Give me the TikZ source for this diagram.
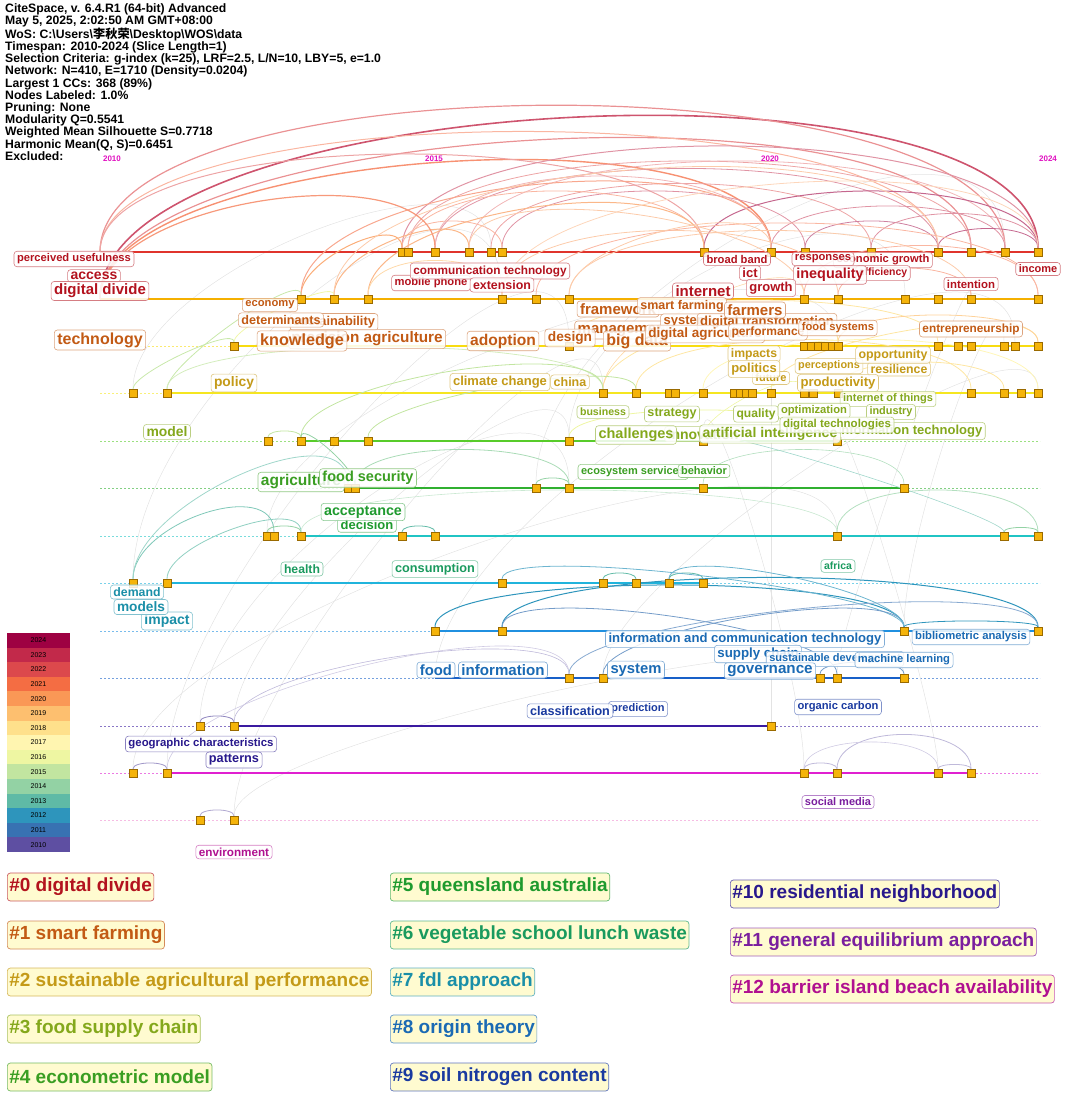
\documentclass[tikz,border=0pt]{standalone}
\usepackage{fontspec}
\setmainfont{Liberation Sans}
\newfontfamily\cjk{Noto Sans CJK SC}
\pgfdeclarelayer{bg}
\pgfsetlayers{bg,main}

% label colours of the clusters
\definecolor{c0}{HTML}{B3121E}
\definecolor{c1}{HTML}{C25A14}
\definecolor{c2}{HTML}{C49A18}
\definecolor{c3}{HTML}{84A81C}
\definecolor{c4}{HTML}{3A9E22}
\definecolor{c5}{HTML}{1E9A2E}
\definecolor{c6}{HTML}{1A9A5E}
\definecolor{c7}{HTML}{1A8FA8}
\definecolor{c8}{HTML}{1A6AB4}
\definecolor{c9}{HTML}{1A3AA0}
\definecolor{c10}{HTML}{28188C}
\definecolor{c11}{HTML}{7A1E9E}
\definecolor{c12}{HTML}{B01090}
% timeline colours
\definecolor{r0}{HTML}{E0342C}
\definecolor{r1}{HTML}{F5B000}
\definecolor{r2}{HTML}{F8DC10}
\definecolor{r3}{HTML}{F5E620}
\definecolor{r4}{HTML}{58CC2A}
\definecolor{r5}{HTML}{30B030}
\definecolor{r6}{HTML}{20C4C4}
\definecolor{r7}{HTML}{20B4DC}
\definecolor{r8}{HTML}{2090E0}
\definecolor{r9}{HTML}{1860C8}
\definecolor{r10}{HTML}{3A1AA0}
\definecolor{r11}{HTML}{E020D0}
\definecolor{r12}{HTML}{F090D0}
% year colours
\definecolor{y2024}{HTML}{9E0142}
\definecolor{y2023}{HTML}{C2294A}
\definecolor{y2022}{HTML}{DC494C}
\definecolor{y2021}{HTML}{F46D43}
\definecolor{y2020}{HTML}{FA9856}
\definecolor{y2019}{HTML}{FDBF6F}
\definecolor{y2018}{HTML}{FEE08B}
\definecolor{y2017}{HTML}{FFF5B0}
\definecolor{y2016}{HTML}{EEF6A2}
\definecolor{y2015}{HTML}{C2E5A0}
\definecolor{y2014}{HTML}{93D2A4}
\definecolor{y2013}{HTML}{5FBAA6}
\definecolor{y2012}{HTML}{2E95BC}
\definecolor{y2011}{HTML}{3872B2}
\definecolor{y2010}{HTML}{5E4FA2}
\definecolor{sqfill}{HTML}{F5B40A}
\definecolor{sqedge}{HTML}{9A6A00}
\definecolor{cluback}{HTML}{FFFBD0}
\definecolor{yeartxt}{HTML}{E010C0}

\begin{document}
\begin{tikzpicture}[x=1pt, y=-1pt,
    sq/.style={draw=sqedge, fill=sqfill, line width=0.5pt, minimum size=8pt, inner sep=0pt},
    lbl/.style 2 args={draw=#1!55, text=#1, fill=white, fill opacity=0.85, text opacity=1, rounded corners=3pt, inner xsep=3pt, inner ysep=2.5pt, line width=0.6pt, font=\bfseries\fontsize{#2}{#2}\selectfont},
    clu/.style={draw=#1!70, text=#1, fill=cluback, rounded corners=3pt, anchor=west, inner xsep=2pt, minimum height=28pt, line width=0.7pt, font=\bfseries\fontsize{19}{19}\selectfont},
    band/.style={minimum width=63pt, minimum height=14.6pt, inner sep=0pt, font=\fontsize{7}{7}\selectfont},
    yr/.style={text=yeartxt, inner sep=0pt, font=\bfseries\fontsize{8}{8}\selectfont},
    row/.style={line width=2pt, draw=#1},
    trail/.style={dash pattern=on 2pt off 2pt, line width=0.6pt, draw=#1!60},
    link/.style={line width=0.8pt}
]
\useasboundingbox (0,0) rectangle (1080,1097);

% header
\node[anchor=north west, inner sep=0pt, align=left, font=\bfseries\fontsize{12.2}{12.2}\selectfont] (header) at (5,3)
  {CiteSpace, v. 6.4.R1 (64-bit) Advanced\\
   May 5, 2025, 2:02:50 AM GMT+08:00\\
   WoS: C:\textbackslash Users\textbackslash{\cjk 李秋荣}\textbackslash Desktop\textbackslash WOS\textbackslash data\\
   Timespan: 2010-2024 (Slice Length=1)\\
   Selection Criteria: g-index (k=25), LRF=2.5, L/N=10, LBY=5, e=1.0\\
   Network: N=410, E=1710 (Density=0.0204)\\
   Largest 1 CCs: 368 (89\%)\\
   Nodes Labeled: 1.0\%\\
   Pruning: None\\
   Modularity Q=0.5541\\
   Weighted Mean Silhouette S=0.7718\\
   Harmonic Mean(Q, S)=0.6451\\
   Excluded:};
\node[yr] (t2010) at (112,159) {2010};
\node[yr] (t2015) at (434,159) {2015};
\node[yr] (t2020) at (770,159) {2020};
\node[yr] (t2024) at (1048,159) {2024};

% items hidden under their labels
\coordinate (s0-100) at (100,252);
\coordinate (s1-100) at (100,299);
\coordinate (s9-435) at (435,678);
\coordinate (s9-502) at (502,678);

% cited items on the timelines
\foreach \r/\yy/\xs in {
    0/252/{402,408,435,469,491,502,704,771,805,871,938,971,1005,1038},
    1/299/{301,334,368,502,536,569,804,838,905,938,971,1038},
    2/346/{234,569,804,811,818,825,832,838,938,958,971,1004,1015,1038},
    3/393/{133,167,603,636,669,675,703,734,740,746,752,771,804,813,838,971,1004,1021,1038},
    4/441/{268,301,334,368,569,703,837},
    5/488/{348,355,536,569,703,904},
    6/536/{267,274,301,402,435,837,1004,1038},
    7/583/{133,167,502,603,636,669,703},
    8/631/{435,502,904,1038},
    9/678/{569,603,820,837,904},
    10/726/{200,234,771},
    11/773/{133,167,804,837,938,971},
    12/820/{200,234}}
  {\foreach \x in \xs {\node[sq] (s\r-\x) at (\x,\yy) {};}}

\begin{pgfonlayer}{bg}
  % dashed timelines
  \foreach \yy/\c in {252/r0,299/r1,346/r2,393/r3,441/r4,488/r5,536/r6,583/r7,631/r8,678/r9,726/r10,773/r11,820/r12}
    \draw[trail=\c] (100,\yy) -- (1040,\yy);
  % faint links
  \foreach \a/\b/\h in {s12-234/s3-603/150, s11-167/s2-569/200, s10-234/s4-569/120, s7-133/s1-502/200,
      s6-267/s2-838/150, s9-603/s3-1038/100, s8-904/s2-1004/100, s11-804/s4-703/100, s10-771/s3-771/30,
      s12-234/s9-904/80, s11-133/s6-837/150, s5-536/s0-1005/200, s4-569/s1-905/150, s9-837/s1-971/50,
      s3-133/s0-491/120, s10-200/s5-569/160, s11-938/s4-837/60, s9-435/s2-1015/180}
    \draw[line width=0.5pt, gray!22] (\a) .. controls +(0,-\h) and +(0,-\h) .. (\b);
  % solid timelines
  \foreach \r/\a/\b in {0/100/1038,1/100/1038,2/234/1038,3/167/1038,4/301/837,5/348/904,6/301/1038,
      7/167/703,8/435/1038,9/435/904,10/234/771,11/167/971}
    \draw[row=r\r] (s\r-\a.center) -- (s\r-\b.center);
  % co-citation links
  \foreach \a/\b/\h/\c/\w in {
      s1-100/s0-1038/210/y2023!80/1.6, s0-100/s0-1005/195/y2022!60/1.2, s1-100/s0-971/180/y2022!60/1.2,
      s0-100/s0-938/160/y2021!50/1, s1-100/s0-771/150/y2021!75/1.4, s0-100/s0-704/130/y2022!50/1,
      s0-402/s0-1038/140/y2023!50/1, s0-408/s0-971/120/y2022!50/0.8, s0-435/s0-938/110/y2023!50/0.8,
      s0-469/s0-1005/120/y2022!40/0.8, s0-491/s0-871/90/y2022!50/0.8, s0-502/s0-805/80/y2023!50/0.8,
      s0-704/s0-1038/80/y2024!60/1, s0-771/s0-1005/60/y2023!50/0.8, s0-805/s0-938/40/y2024!50/0.8,
      s0-871/s0-1038/50/y2023!50/0.8, s0-938/s0-1038/30/y2024!60/0.8, s0-402/s0-502/40/y2021!50/0.8,
      s0-408/s0-704/80/y2021!50/0.8, s0-435/s0-771/100/y2022!40/0.8,
      s1-301/s0-402/40/y2020!80/1, s1-334/s0-469/50/y2020!70/1, s1-368/s0-704/90/y2020!70/1,
      s1-301/s0-771/120/y2021!60/1, s1-334/s0-938/140/y2020!50/0.8, s1-100/s0-435/100/y2021!70/1.2,
      s1-502/s1-838/90/y2020!50/0.8, s1-536/s1-1038/100/y2021!50/0.8, s1-569/s1-971/90/y2020!50/0.8,
      s1-502/s0-1038/120/y2020!40/0.8, s1-368/s1-502/50/y2019!60/0.8, s1-804/s1-1038/70/y2021!50/0.8,
      s1-838/s1-971/40/y2021!50/0.8, s1-569/s0-771/60/y2020!50/0.8, s0-469/s1-804/80/y2020!50/0.8,
      s3-133/s2-234/20/y2015!90/0.8, s3-167/s1-301/30/y2015!90/0.8, s2-234/s1-334/20/y2016!90/0.8,
      s3-603/s2-838/60/y2018!80/0.8, s3-636/s3-971/70/y2018!80/0.8, s3-703/s3-1038/70/y2017!90/0.8,
      s3-771/s2-1038/50/y2018!80/0.8, s2-569/s2-938/60/y2018!80/0.8, s2-838/s2-1038/40/y2019!70/0.8,
      s3-838/s3-1004/40/y2018!80/0.8, s3-167/s3-603/60/y2015!70/0.8, s3-603/s1-804/60/y2019!60/0.6,
      s4-268/s4-301/12/y2015/0.8, s4-301/s3-603/60/y2015/0.8, s4-368/s3-636/40/y2015/0.8,
      s4-569/s4-837/40/y2016/0.8, s4-703/s3-804/30/y2016/0.6,
      s5-536/s5-569/12/y2014/0.8, s5-355/s5-569/50/y2014!80/0.8, s5-355/s4-301/20/y2014/0.8,
      s5-703/s5-904/50/y2014!70/0.6,
      s7-133/s6-274/60/y2013!80/0.8, s7-167/s6-301/40/y2013!70/0.8, s7-133/s5-348/80/y2013!60/0.8,
      s6-267/s6-301/12/y2014/0.8, s6-402/s6-435/12/y2013/0.8, s6-837/s6-1038/60/y2014!70/0.8,
      s6-1004/s6-1038/10/y2014/0.8, s6-301/s6-837/60/y2014!50/0.6, s4-703/s6-1004/20/y2013!60/0.6,
      s7-603/s7-636/12/y2013/0.8, s7-669/s7-703/12/y2013/0.8,
      s8-435/s8-904/60/y2012/1, s8-502/s8-1038/70/y2012/1, s8-502/s9-837/50/y2011!70/0.8,
      s7-502/s8-904/40/y2012!70/0.8, s9-603/s8-904/50/y2011!70/0.8, s9-569/s8-1038/60/y2011!60/0.8,
      s8-904/s8-1038/12/y2012/0.8, s9-820/s9-904/20/y2011!70/0.8, s7-669/s8-904/40/y2012!70/0.8,
      s10-200/s10-234/12/y2010!70/0.8, s11-133/s11-167/12/y2010!60/0.8, s12-200/s12-234/12/y2010!50/0.8,
      s10-234/s9-569/60/y2010!40/0.6, s11-167/s9-569/80/y2010!30/0.6, s11-837/s11-971/50/y2010!40/0.8,
      s11-804/s11-837/12/y2010!40/0.8, s11-938/s11-971/10/y2010!40/0.8, s11-804/s11-938/40/y2010!30/0.6}
    \draw[link, draw=\c, line width=\w] (\a) .. controls +(0,-\h) and +(0,-\h) .. (\b);
\end{pgfonlayer}

% cluster #0
\node[lbl={c0}{11.2}] (lusefulness) at (74,259) {perceived usefulness};
\node[lbl={c0}{14}] (laccess) at (94,276) {access};
\node[lbl={c0}{15}] (ldivide) at (100,291) {digital divide};
\node[lbl={c0}{11.2}] (lmobile) at (431,283) {mobile phone};
\node[lbl={c0}{11.8}] (lcommtech) at (490,271) {communication technology};
\node[lbl={c0}{12.4}] (lextension) at (502,285) {extension};
\node[lbl={c0}{11.2}] (lbroadband) at (737,259) {broad band};
\node[lbl={c0}{11.2}] (lecogrowth) at (883,260) {economic growth};
\node[lbl={c0}{11.2}] (lresponses) at (823,259) {responses};
\node[lbl={c0}{10.5}] (lefficiency) at (883,273) {efficiency};
\node[lbl={c0}{14.4}] (linequality) at (830,275) {inequality};
\node[lbl={c0}{13}] (lict) at (750,273) {ict};
\node[lbl={c0}{13}] (lgrowth) at (771,288) {growth};
\node[lbl={c0}{15}] (linternet) at (703,291) {internet};
\node[lbl={c0}{11.4}] (lintention) at (971,284) {intention};
\node[lbl={c0}{11}] (lincome) at (1038,269) {income};

% cluster #1
\node[lbl={c1}{11.2}] (leconomy) at (270,305) {economy};
\node[lbl={c1}{12.8}] (lsustain) at (334,322) {sustainability};
\node[lbl={c1}{12.6}] (ldeterminants) at (281,320) {determinants};
\node[lbl={c1}{15.3}] (lprecision) at (367,339) {precision agriculture};
\node[lbl={c1}{16.2}] (lknowledge) at (302,341) {knowledge};
\node[lbl={c1}{16}] (ltechnology) at (100,340) {technology};
\node[lbl={c1}{15.6}] (ladoption) at (503,341) {adoption};
\node[lbl={c1}{15}] (lframework) at (618,309) {framework};
\node[lbl={c1}{15}] (lmanagement) at (624,330) {management};
\node[lbl={c1}{16}] (lbigdata) at (637,341) {big data};
\node[lbl={c1}{13.7}] (ldesign) at (570,338) {design};
\node[lbl={c1}{12.5}] (lsmartfarming) at (682,306) {smart farming};
\node[lbl={c1}{13}] (lsystem) at (686,322) {system};
\node[lbl={c1}{13}] (ldigtrans) at (767,322) {digital transformation};
\node[lbl={c1}{13.5}] (ldigagri) at (705,334) {digital agriculture};
\node[lbl={c1}{12}] (lperformance) at (768,332) {performance};
\node[lbl={c1}{15}] (lfarmers) at (755,310) {farmers};
\node[lbl={c1}{11.2}] (lfoodsystems) at (838,328) {food systems};
\node[lbl={c1}{11.8}] (lentrepreneur) at (971,329) {entrepreneurship};

% cluster #2
\node[lbl={c2}{13.8}] (lpolicy) at (234,383) {policy};
\node[lbl={c2}{13}] (lclimate) at (500,382) {climate change};
\node[lbl={c2}{12.5}] (lchina) at (570,382) {china};
\node[lbl={c2}{12.2}] (limpacts) at (754,354) {impacts};
\node[lbl={c2}{11}] (lfuture) at (771,378) {future};
\node[lbl={c2}{13}] (lpolitics) at (754,369) {politics};
\node[lbl={c2}{10.9}] (lperceptions) at (829,366) {perceptions};
\node[lbl={c2}{12.3}] (lresilience) at (899,369) {resilience};
\node[lbl={c2}{12.4}] (lopportunity) at (893,355) {opportunity};
\node[lbl={c2}{13.1}] (lproductivity) at (838,383) {productivity};

% cluster #3
\node[lbl={c3}{13.9}] (lmodel) at (167,432) {model};
\node[lbl={c3}{10.6}] (lbusiness) at (603,412) {business};
\node[lbl={c3}{12.6}] (lstrategy) at (672,414) {strategy};
\node[lbl={c3}{14}] (linnovation) at (703,434) {innovation};
\node[lbl={c3}{14.5}] (lchallenges) at (636,435) {challenges};
\node[lbl={c3}{13}] (linfotech) at (910,431) {information technology};
\node[lbl={c3}{14}] (lai) at (770,434) {artificial intelligence};
\node[lbl={c3}{12.1}] (lquality) at (756,414) {quality};
\node[lbl={c3}{11}] (liot) at (888,399) {internet of things};
\node[lbl={c3}{10.9}] (lindustry) at (891,412) {industry};
\node[lbl={c3}{11.2}] (loptimization) at (814,411) {optimization};
\node[lbl={c3}{11.5}] (ldigtech) at (837,425) {digital technologies};

% cluster #4
\node[lbl={c4}{15.5}] (lagriculture) at (301,482) {agriculture};
\node[lbl={c4}{14.5}] (lfoodsecurity) at (368,478) {food security};
\node[lbl={c4}{11}] (lecosystem) at (633,472) {ecosystem services};
\node[lbl={c4}{11}] (lbehavior) at (704,471) {behavior};

% cluster #5
\node[lbl={c5}{13}] (ldecision) at (367,525) {decision};
\node[lbl={c5}{14.3}] (lacceptance) at (363,512) {acceptance};

% cluster #6
\node[lbl={c6}{12.2}] (lhealth) at (302,569) {health};
\node[lbl={c6}{12.7}] (lconsumption) at (435,569) {consumption};
\node[lbl={c6}{10.5}] (lafrica) at (838,566) {africa};

% cluster #7
\node[lbl={c7}{14}] (limpact) at (167,621) {impact};
\node[lbl={c7}{13.7}] (lmodels) at (141,607) {models};
\node[lbl={c7}{12.3}] (ldemand) at (137,592) {demand};

% cluster #8
\node[lbl={c8}{13.1}] (licttech) at (745,639) {information and communication technology};
\node[lbl={c8}{11.3}] (lbiblio) at (971,637) {bibliometric analysis};
\node[lbl={c8}{13.3}] (lsupply) at (758,654) {supply chain};
\node[lbl={c8}{11}] (lsustdev) at (835,659) {sustainable development};
\node[lbl={c8}{11.2}] (lmachine) at (904,660) {machine learning};
\node[lbl={c8}{15.2}] (lgovernance) at (770,671) {governance};
\node[lbl={c8}{14.8}] (lfood) at (436,670) {food};
\node[lbl={c8}{15.1}] (linformation) at (503,670) {information};
\node[lbl={c8}{14.8}] (lsystemb) at (636,670) {system};

% cluster #9
\node[lbl={c9}{11}] (lprediction) at (638,709) {prediction};
\node[lbl={c9}{12.6}] (lclassification) at (570,711) {classification};
\node[lbl={c9}{11.2}] (lorganic) at (838,707) {organic carbon};

% clusters #10 - #12
\node[lbl={c10}{11.4}] (lgeographic) at (201,744) {geographic characteristics};
\node[lbl={c10}{12.7}] (lpatterns) at (234,760) {patterns};
\node[lbl={c11}{11}] (lsocial) at (838,802) {social media};
\node[lbl={c12}{11.7}] (lenvironment) at (234,852) {environment};

% year colour key
\foreach \yy [count=\i from 0] in {2024,2023,2022,2021,2020,2019,2018,2017,2016,2015,2014,2013,2012,2011,2010}
  \node[band, fill=y\yy] (band\yy) at (38.5, 640.3+14.6*\i) {\yy};

% cluster legend
\node[clu=c0] (k0) at (7,887) {\#0 digital divide};
\node[clu=c1] (k1) at (7,935) {\#1 smart farming};
\node[clu=c2] (k2) at (7,982) {\#2 sustainable agricultural performance};
\node[clu=c3] (k3) at (7,1029) {\#3 food supply chain};
\node[clu=c4] (k4) at (7,1077) {\#4 econometric model};
\node[clu=c5] (k5) at (390,887) {\#5 queensland australia};
\node[clu=c6] (k6) at (390,935) {\#6 vegetable school lunch waste};
\node[clu=c7] (k7) at (390,982) {\#7 fdl approach};
\node[clu=c8] (k8) at (390,1029) {\#8 origin theory};
\node[clu=c9] (k9) at (390,1077) {\#9 soil nitrogen content};
\node[clu=c10] (k10) at (730,894) {\#10 residential neighborhood};
\node[clu=c11] (k11) at (730,942) {\#11 general equilibrium approach};
\node[clu=c12] (k12) at (730,989) {\#12 barrier island beach availability};
\end{tikzpicture}
\end{document}
